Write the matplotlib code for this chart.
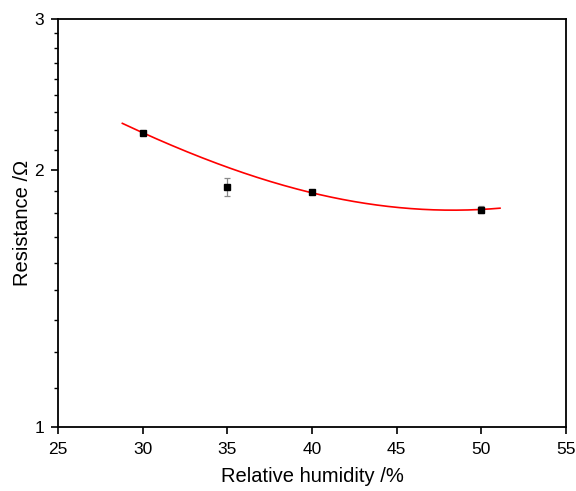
import numpy as np
import matplotlib
matplotlib.use("Agg")
import matplotlib.pyplot as plt
from matplotlib.ticker import FixedLocator, NullFormatter, NullLocator

plt.rcParams["font.family"] = ["Liberation Sans", "DejaVu Sans"]

humidity = [30, 35, 40, 50]
resistance = [2.21, 1.908, 1.881, 1.795]
resistance_err = [0.008, 0.047, 0.008, 0.016]

# weighted quadratic fit, as drawn in the original
coef = np.polyfit(humidity, resistance, 2, w=1 / np.array(resistance_err))
fit_x = np.linspace(28.8, 51.1, 200)
fit_y = np.polyval(coef, fit_x)

fig = plt.figure(figsize=(5.76, 4.91), dpi=100)
ax = fig.add_axes([0.1007, 0.1303, 0.882, 0.831])

ax.plot(fit_x, fit_y, color="red", lw=1.2, zorder=2)
ax.errorbar(humidity, resistance, yerr=resistance_err, fmt="s", color="black",
            ms=4.3, ecolor="#8a8a8a", elinewidth=0.9, capsize=2.5, capthick=0.9,
            zorder=3)

ax.set_yscale("log")
ax.set_xlim(25, 55)
ax.set_ylim(1, 3)
ax.set_xticks(np.arange(25, 56, 5))
ax.xaxis.set_minor_locator(NullLocator())
ax.yaxis.set_major_locator(FixedLocator([1, 2, 3]))
ax.set_yticklabels(["1", "2", "3"])
minor = [1 + k / 9 for k in range(1, 9)] + [2 + k / 9 for k in range(1, 9)]
ax.yaxis.set_minor_locator(FixedLocator(minor))
ax.yaxis.set_minor_formatter(NullFormatter())

ax.tick_params(which="major", direction="out", length=5, width=1.2, labelsize=12.5)
ax.tick_params(axis="x", which="major", pad=6)
ax.tick_params(axis="y", which="major", pad=5)
ax.tick_params(which="minor", direction="out", length=3, width=1.0)
for s in ax.spines.values():
    s.set_linewidth(1.3)

ax.set_xlabel("Relative humidity /%", fontsize=14.5, labelpad=7)
ax.set_ylabel("Resistance /\u03a9", fontsize=14.5, labelpad=2)

fig.savefig("out.png", dpi=100)
